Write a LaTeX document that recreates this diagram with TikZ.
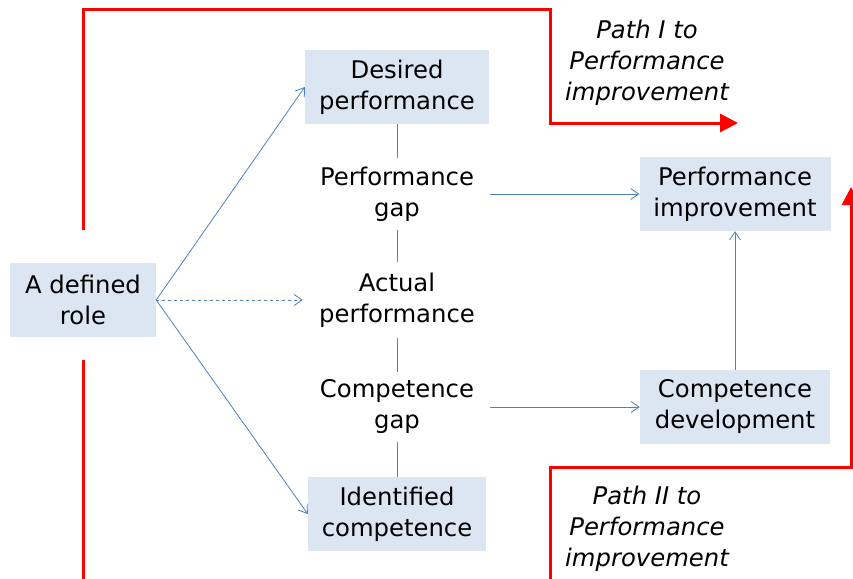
\documentclass[tikz,border=0pt]{standalone}
\usepackage{fontspec}
\setmainfont{DejaVu Sans}
\usetikzlibrary{arrows.meta}
\definecolor{boxfill}{RGB}{220,230,242}
\definecolor{conn}{RGB}{79,129,189}
\definecolor{pathred}{RGB}{255,0,0}
\begin{document}
\begin{tikzpicture}[x=1pt,y=-1pt,
  txt/.style={inner sep=0pt, align=center, font=\fontsize{24.3}{31}\selectfont},
  box/.style={txt, fill=boxfill},
  lbl/.style={inner sep=0pt, align=center, font=\fontsize{24.3}{31}\selectfont\itshape},
  conline/.style={draw=conn, line width=0.8pt},
  conarrow/.style={conline, -{Straight Barb[length=8pt,width=11pt,line width=0.8pt]}},
  redpath/.style={draw=pathred, line width=3pt},
  redarrow/.style={redpath, -{Triangle[length=18pt,width=18pt]}}
]
\useasboundingbox (0,0) rectangle (853,578);

% boxes
\node[box, minimum width=184, minimum height=73] (des) at (397,87) {Desired\\performance};
\node[box, minimum width=146, minimum height=74] (role) at (83,300) {A defined\\role};
\node[box, minimum width=178, minimum height=74] (idc) at (397,514) {Identified\\competence};
\node[box, minimum width=191, minimum height=74] (pi) at (735,194) {Performance\\improvement};
\node[box, minimum width=190, minimum height=74] (cd) at (735,407) {Competence\\development};

% plain labels
\node[txt, minimum width=186, minimum height=72] (pg) at (397,194) {Performance\\gap};
\node[txt, minimum width=188, minimum height=76] (ap) at (397,300) {Actual\\performance};
\node[txt, minimum width=186, minimum height=70] (cg) at (397,407) {Competence\\gap};

% italic path labels
\node[lbl] (p1) at (647,63) {Path I to\\Performance\\improvement};
\node[lbl] (p2) at (647,529) {Path II to\\Performance\\improvement};

% connectors
\draw[conline] (des.south) -- (pg.north);
\draw[conline] (pg.south) -- (ap.north);
\draw[conline] (ap.south) -- (cg.north);
\draw[conline] (cg.south) -- (idc.north);
\draw[conarrow] (role.east) -- (des.west);
\draw[conarrow, dashed] (role.east) -- (ap.west);
\draw[conarrow] (role.east) -- (idc.west);
\draw[conarrow] (pg.east) -- (pi.west);
\draw[conarrow] (cg.east) -- (cd.west);
\draw[conarrow] (cd.north) -- (pi.south);

% red paths
\coordinate (r1) at (83,230);
\coordinate (r2) at (83,10);
\coordinate (r3) at (550,10);
\coordinate (r4) at (550,123);
\coordinate (r5) at (738,123);
\coordinate (r6) at (83,360);
\coordinate (r7) at (83,580);
\coordinate (r8) at (550,580);
\coordinate (r9) at (550,467);
\coordinate (r10) at (851,467);
\coordinate (r11) at (851,187);
\draw[redarrow] (r1) -- (r2) -- (r3) -- (r4) -- (r5);
\draw[redpath] (r6) -- (r7);
\draw[redarrow] (r8) -- (r9) -- (r10) -- (r11);
\end{tikzpicture}
\end{document}
